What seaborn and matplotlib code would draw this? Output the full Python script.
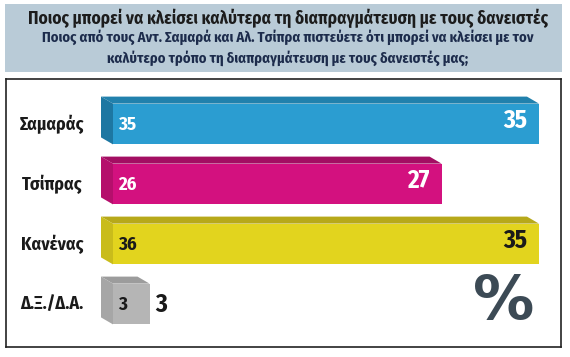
import matplotlib
matplotlib.use("Agg")
import matplotlib.pyplot as plt
from matplotlib.patches import Rectangle, Polygon
import seaborn as sns
import pandas as pd

# ---- data ----
categories = ["Σαμαράς", "Τσίπρας", "Κανένας", "Δ.Ξ./Δ.Α."]
current = [35, 27, 35, 3]
previous = [35, 26, 36, 3]
title = "Ποιος μπορεί να κλείσει καλύτερα τη διαπραγμάτευση με τους δανειστές"
subtitle = ("Ποιος από τους Αντ. Σαμαρά και Αλ. Τσίπρα πιστεύετε ότι μπορεί να κλείσει με τον\n"
            "καλύτερο τρόπο τη διαπραγμάτευση με τους δανειστές μας;")

front_colors = ["#2b9dd1", "#d3117f", "#e2d41e", "#b5b5b5"]
top_colors = ["#2181ad", "#a30e62", "#b7a91a", "#9c9c9c"]
side_colors = ["#1d77a2", "#b50f6c", "#c9bc1b", "#a6a6a6"]
label_colors = ["white", "white", "#1a1a1a", "#1a1a1a"]

sns.set_style("white")
plt.rcParams["font.family"] = ["Fira Sans Condensed", "DejaVu Sans"]

W, H = 570, 357
fig = plt.figure(figsize=(W / 100, H / 100), dpi=100)

# title box
fig.patches.append(Rectangle((5 / W, 1 - 72 / H), 557 / W, 68 / H,
                             transform=fig.transFigure, facecolor="#b9cbd7",
                             edgecolor="none", zorder=0))
fig.text(288 / W, 1 - 18 / H, title, ha="center", va="center",
         fontsize=12.5, fontweight="bold", color="#1c1c1c")
fig.text(288 / W, 1 - 48 / H, subtitle, ha="center", va="center",
         fontsize=10.5, fontweight="bold", color="#1d2c4c", linespacing=1.4)

# chart frame axes
fl, fr, ft, fb = 6, 561, 79, 347
ax = fig.add_axes([fl / W, 1 - fb / H, (fr - fl) / W, (fb - ft) / H])

df = pd.DataFrame({"cat": categories, "val": current})
sns.barplot(data=df, x="val", y="cat", hue="cat", palette=front_colors,
            width=0.68, orient="h", legend=False, ax=ax, saturation=1)

pxu = 12.17  # pixels per percentage point
x0px = 113
ax.set_xlim(-(x0px - fl) / pxu, (fr - x0px) / pxu)
ax.set_ylim((fb - 124) / 60, -(124 - ft) / 60)

dx = -12 / pxu
dy = -7 / 60
patches = sorted(ax.patches, key=lambda p: p.get_y())
for i, p in enumerate(patches):
    x, y, w, h = p.get_x(), p.get_y(), p.get_width(), p.get_height()
    p.set_edgecolor("none")
    ax.add_patch(Polygon([(x, y), (x + w, y), (x + w + dx, y + dy), (x + dx, y + dy)],
                         closed=True, facecolor=top_colors[i], edgecolor="none", zorder=3))
    ax.add_patch(Polygon([(x, y), (x + dx, y + dy), (x + dx, y + h + dy), (x, y + h)],
                         closed=True, facecolor=side_colors[i], edgecolor="none", zorder=3))
    # category label
    ax.text(-(x0px - 52) / pxu, i, categories[i], ha="center", va="center",
            fontsize=13, fontweight="bold", color="#1a1a1a")
    # small (previous) label inside left
    ax.annotate(str(previous[i]), (x, i), xytext=(5, -1), textcoords="offset pixels",
                ha="left", va="center", fontsize=13.5, fontweight="bold",
                color=label_colors[i])
    # big (current) label
    if current[i] >= 10:
        ax.annotate(str(current[i]), (x + w, i), xytext=(-12, 3), textcoords="offset pixels",
                    ha="right", va="center", fontsize=18, fontweight="bold",
                    color=label_colors[i])
    else:
        ax.annotate(str(current[i]), (x + w, i), xytext=(6, -1), textcoords="offset pixels",
                    ha="left", va="center", fontsize=18, fontweight="bold",
                    color="#1a1a1a")

ax.text(504 / W, 1 - 302 / H, "%", transform=fig.transFigure, ha="center", va="center",
        fontsize=44, fontweight="bold", color="#3c4a55", family="DejaVu Sans")

ax.set_xlabel("")
ax.set_ylabel("")
ax.set_xticks([])
ax.set_yticks([])
for s in ax.spines.values():
    s.set_visible(True)
    s.set_color("#222222")
    s.set_linewidth(1.2)

fig.savefig("out.png", dpi=100)
